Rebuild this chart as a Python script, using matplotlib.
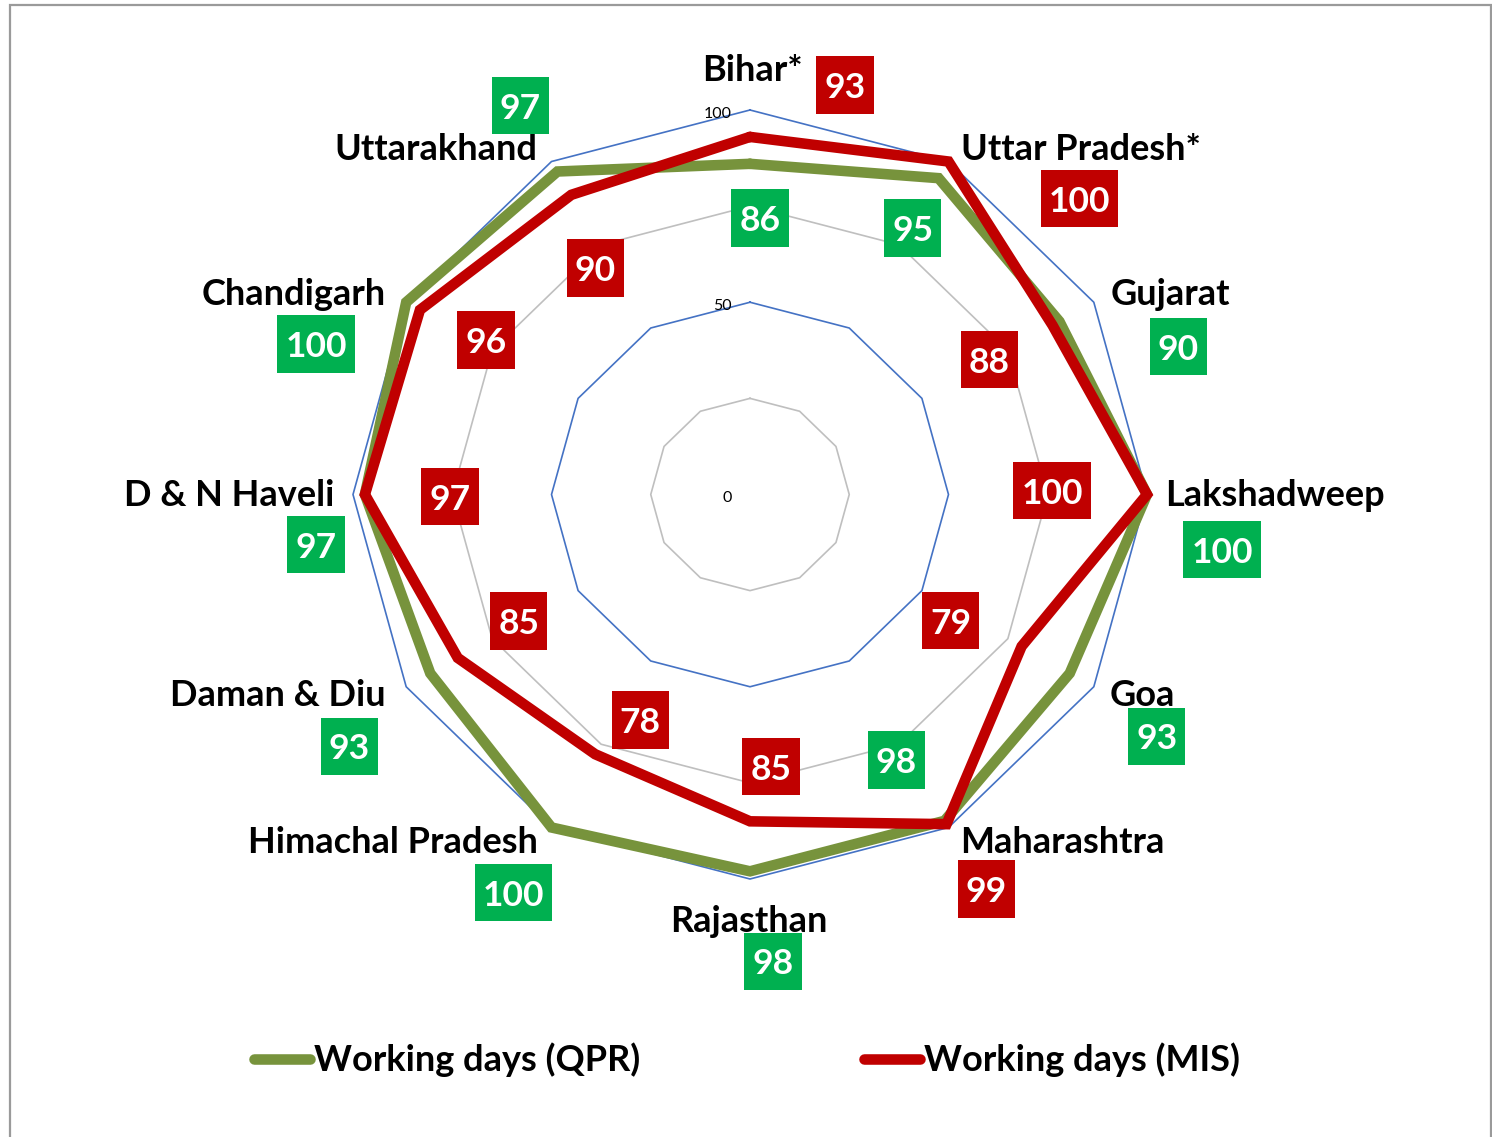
import numpy as np
import matplotlib
matplotlib.use("Agg")
import matplotlib.pyplot as plt
from matplotlib.patches import Rectangle
from matplotlib.path import Path

# categories clockwise from the top
states = ["Bihar*", "Uttar Pradesh*", "Gujarat", "Lakshadweep", "Goa", "Maharashtra",
          "Rajasthan", "Himachal Pradesh", "Daman & Diu", "D & N Haveli", "Chandigarh",
          "Uttarakhand"]
qpr_days = [86, 95, 90, 100, 93, 98, 98, 100, 93, 97, 100, 97]
mis_days = [93, 100, 88, 100, 79, 99, 85, 78, 85, 97, 96, 90]
ring_values = [25, 50, 75, 100]
ring_labels = {0: "0", 50: "50", 100: "100"}

# label offsets in pixels (x right, y up), box centres relative to the point
state_offsets = [(2, 29), (132, 2), (77, -3), (128, -12), (49, -19), (114, -26),
                 (-1, -53), (-159, -26), (-128, -19), (-124, -12), (-113, -3), (-116, 2)]
qpr_offsets = [(10, -54), (-26, -50), (119, -25), (75, -55), (87, -63), (-48, 61),
               (23, -90), (-38, -65), (-81, -73), (-49, -50), (-90, -42), (-37, 66)]
mis_offsets = [(95, 52), (131, -37), (-63, -34), (-95, 4), (-71, 26), (40, -65),
               (21, 55), (45, 34), (61, 37), (85, -2), (66, -30), (24, -73)]

GREEN_LINE = "#77933C"
RED_LINE = "#C00000"
GREEN_BOX = "#00B050"
RED_BOX = "#C00000"
BLUE_GRID = "#4472C4"
GREY_GRID = "#BFBFBF"
FONT = "Lato"

W, H = 1492, 1137
CX, CY = 750, 494.5          # chart centre in pixels
SX, SY = 3.97, 3.845         # pixels per unit

PAD_X, PAD_TOP, PAD_BOT = 0.23, 0.45, 0.27


def label_box(x0, y0, width, height, mutation_size):
    # Excel-like data label box: more room above the digits than below
    x0, x1 = x0 - PAD_X * mutation_size, x0 + width + PAD_X * mutation_size
    y0, y1 = y0 - PAD_BOT * mutation_size, y0 + height + PAD_TOP * mutation_size
    return Path([(x0, y0), (x1, y0), (x1, y1), (x0, y1), (x0, y0)], closed=True)


fig = plt.figure(figsize=(W / 100, H / 100), dpi=100)
ax = fig.add_axes([0, 0, 1, 1])
ax.set_xlim(-CX / SX, (W - CX) / SX)
ax.set_ylim(-(H - CY) / SY, CY / SY)
ax.axis("off")

n = len(states)
theta = np.deg2rad(90 - 360 / n * np.arange(n))


def to_xy(values):
    v = np.asarray(values, dtype=float)
    x = v * np.cos(theta)
    y = v * np.sin(theta)
    return np.append(x, x[0]), np.append(y, y[0])


# grid rings
for rv in ring_values:
    gx, gy = to_xy([rv] * n)
    col = BLUE_GRID if rv % 50 == 0 else GREY_GRID
    ax.plot(gx, gy, color=col, lw=1.2, zorder=1)

for rv, txt in ring_labels.items():
    ax.annotate(txt, xy=(0, rv), xytext=(-18, -8), textcoords="offset pixels",
                ha="right", va="baseline", fontsize=11.5, family=FONT, color="#000000")

# series
qx, qy = to_xy(qpr_days)
mx, my = to_xy(mis_days)
ax.plot(qx, qy, color=GREEN_LINE, lw=7.6, solid_joinstyle="miter",
        solid_capstyle="round", zorder=3, label="Working days (QPR)")
ax.plot(mx, my, color=RED_LINE, lw=7.6, solid_joinstyle="miter",
        solid_capstyle="round", zorder=4, label="Working days (MIS)")

# category labels
ox, oy = to_xy([100] * n)
for i, name in enumerate(states):
    ax.annotate(name, xy=(ox[i], oy[i]), xytext=state_offsets[i], textcoords="offset pixels",
                ha="center", va="baseline", fontsize=26, fontweight="bold",
                family=FONT, color="black", zorder=6)

# value labels
label_size = 25.5
shift = (PAD_TOP - PAD_BOT) / 2 * label_size * 100 / 72
for vals, offs, fc in [(qpr_days, qpr_offsets, GREEN_BOX), (mis_days, mis_offsets, RED_BOX)]:
    px, py = to_xy(vals)
    for i, v in enumerate(vals):
        ax.annotate(str(v), xy=(px[i], py[i]), xytext=(offs[i][0], offs[i][1] - shift),
                    textcoords="offset pixels", ha="center", va="center",
                    fontsize=label_size, fontweight="bold",
                    family=FONT, color="white", zorder=7,
                    bbox=dict(boxstyle=label_box, fc=fc, ec="none"))

# legend
fig.legend(loc="center", bbox_to_anchor=(747 / W, 1 - 1060 / H), ncol=2, frameon=False,
           handlelength=1.55, handletextpad=0.12, columnspacing=6.2,
           prop={"family": FONT, "weight": "bold", "size": 26})

# outer frame
fig.add_artist(Rectangle((9.5 / W, -0.05), (1491 - 9.5) / W, 1.05 - 5.5 / H,
                         transform=fig.transFigure, fill=False, ec="#9A9A9A", lw=1.6))

fig.savefig("out.png", dpi=100)
